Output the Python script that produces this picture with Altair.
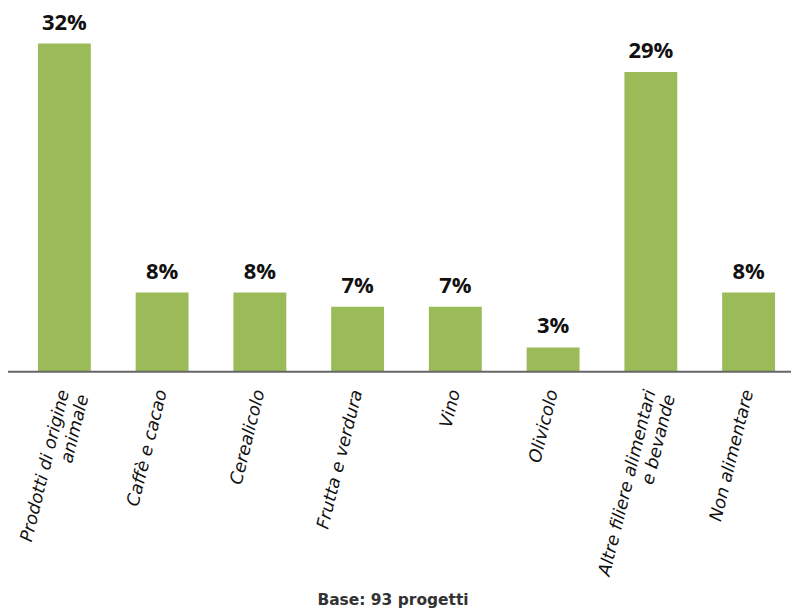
import altair as alt
import pandas as pd

categories = [
    "Prodotti di origine animale",
    "Caffè e cacao",
    "Cerealicolo",
    "Frutta e verdura",
    "Vino",
    "Olivicolo",
    "Altre filiere alimentari e bevande",
    "Non alimentare",
]
values = [32.3, 7.8, 7.8, 6.4, 6.4, 2.4, 29.5, 7.8]
value_labels = ["32%", "8%", "8%", "7%", "7%", "3%", "29%", "8%"]
footer = "Base: 93 progetti"

df = pd.DataFrame({"cat": categories, "val": values, "lab": value_labels})

TOP = 6
W, H = 786, 358
FONT = "Open Sans"
AXFONT = "DejaVu Sans"
GREEN = "#9bbb59"

label_expr = (
    "datum.label == 'Prodotti di origine animale' ? ['Prodotti di origine', 'animale'] : "
    "datum.label == 'Altre filiere alimentari e bevande' ? ['Altre filiere alimentari', 'e bevande'] : "
    "datum.label"
)

x = alt.X(
    "cat:N",
    sort=categories,
    title=None,
    scale=alt.Scale(range=[5.5, 793.5], paddingInner=0.459, paddingOuter=0.25),
    axis=alt.Axis(
        domain=False,
        ticks=False,
        labelAngle=284,
        labelAlign="right",
        labelBaseline="middle",
        labelFont=AXFONT,
        labelFontStyle="italic",
        labelFontSize=17.5,
        labelColor="#111111",
        labelPadding=18,
        labelLineHeight=20,
        labelExpr=label_expr,
        labelLimit=300,
    ),
)
y = alt.Y("val:Q", scale=alt.Scale(domain=[0, 35.13], nice=False), axis=None)

bars = alt.Chart(df).mark_bar(color=GREEN).encode(x=x, y=y)
texts = alt.Chart(df).mark_text(
    font=FONT, fontWeight="bold", fontSize=22, color="#111111", baseline="bottom", dy=-9
).encode(x=x, y=y, text="lab:N")

axis_line = alt.Chart(pd.DataFrame({"v": [0]})).mark_rule(color="#666666", strokeWidth=2).encode(
    x=alt.value(-1), x2=alt.value(785), y=alt.value(H)
)

foot = alt.Chart(pd.DataFrame({"t": [footer]})).mark_text(
    font=AXFONT, fontSize=15.5, fontWeight=600, color="#333333", align="center", baseline="middle"
).encode(text="t:N", x=alt.value(386), y=alt.value(587))

chart = (
    alt.layer(bars, texts, axis_line, foot)
    .properties(
        width=W,
        height=H,
        autosize=alt.AutoSizeParams(type="none"),
        padding={"left": 0, "top": TOP, "right": 0, "bottom": 240},
    )
    .configure(background="white", view=alt.ViewConfig(stroke=None))
)

chart.save("out.html", embed_options={"renderer": "svg", "actions": False})
